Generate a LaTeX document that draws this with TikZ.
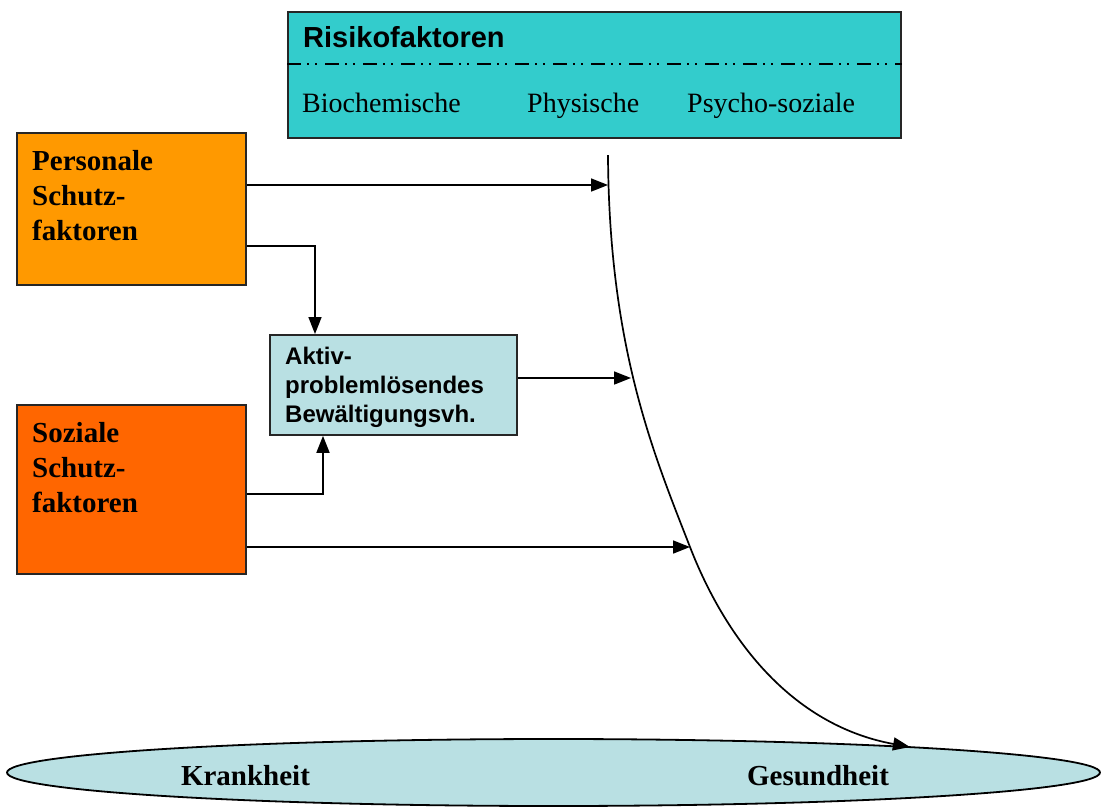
\documentclass[tikz,border=0pt]{standalone}
\usepackage{fontspec}
\setmainfont{Liberation Serif}
\setsansfont{Liberation Sans}
\usetikzlibrary{arrows.meta,shapes.geometric}
\definecolor{riskcyan}{RGB}{51,204,204}
\definecolor{persorange}{RGB}{255,153,0}
\definecolor{sozorange}{RGB}{255,102,0}
\definecolor{paleblue}{RGB}{185,224,227}
\begin{document}
\begin{tikzpicture}[x=1pt,y=-1pt,
        box/.style={draw=black!85,line width=1.8pt,inner sep=0pt,anchor=north west},
        arr/.style={-{Triangle[length=17pt,width=13pt]},line width=1.7pt},
        lbl/.style={inner sep=0pt,anchor=north west,align=left,font=\fontsize{29}{35}\selectfont\bfseries}]
                \useasboundingbox (0,0) rectangle (1101,807);
                % boxes
                \node[box,fill=riskcyan,minimum width=613pt,minimum height=126pt] (risk) at (287,11) {};
                \draw[line width=2pt,dash pattern=on 14pt off 6pt on 2pt off 6pt on 2pt off 8pt] (risk.west |- 0,64) -- (risk.east |- 0,64);
                \node[inner sep=0pt,anchor=base west,font=\sffamily\fontsize{29}{35}\selectfont\bfseries] (risktitle) at (303,47) {Risikofaktoren};
                \node[inner sep=0pt,anchor=base west,font=\fontsize{28}{34}\selectfont] (bio) at (302,112) {Biochemische};
                \node[inner sep=0pt,anchor=base west,font=\fontsize{28}{34}\selectfont] (phys) at (527,112) {Physische};
                \node[inner sep=0pt,anchor=base west,font=\fontsize{28}{34}\selectfont] (psych) at (687,112) {Psycho-soziale};
                \node[box,fill=persorange,minimum width=229pt,minimum height=152pt] (pers) at (16,132) {};
                \node[lbl] (perstext) at (32,150) {Personale\\Schutz-\\faktoren};
                \node[box,fill=sozorange,minimum width=229pt,minimum height=169pt] (soz) at (16,404) {};
                \node[lbl] (soztext) at (32,422) {Soziale\\Schutz-\\faktoren};
                \node[box,fill=paleblue,minimum width=247pt,minimum height=100pt] (aktiv) at (269,334) {};
                \node[lbl,font=\sffamily\fontsize{24}{29}\selectfont\bfseries] (aktivtext) at (285,347) {Aktiv-\\problemlösendes\\Bewältigungsvh.};
                \node[draw=black,ellipse,fill=paleblue,line width=1.8pt,inner sep=0pt,minimum width=1093pt,minimum height=67pt] (axis) at (553.5,772.5) {};
                \node[inner sep=0pt,anchor=base,font=\fontsize{29}{35}\selectfont\bfseries] (krank) at (245.5,785) {Krankheit};
                \node[inner sep=0pt,anchor=base,font=\fontsize{29}{35}\selectfont\bfseries] (gesund) at (818,785) {Gesundheit};
                % curve
                \coordinate (top) at (608,155);
                \coordinate (c1) at (608,185);
                \coordinate (c2) at (631,378);
                \coordinate (c3) at (690,547);
                \coordinate (tip) at (910,747);
                \draw[arr] (top) .. controls (609,350) and (655,457) .. (c3)
                        .. controls (725,637) and (790,725) .. (tip);
                % arrows
                \draw[arr] (pers.east |- c1) -- (c1);
                \draw[arr] ([yshift=-37pt]pers.east) -| ([xshift=46pt]aktiv.north west);
                \draw[arr] ([yshift=-4.5pt]soz.east) -| ([xshift=54pt]aktiv.south west);
                \draw[arr] (aktiv.east |- c2) -- (c2);
                \draw[arr] (soz.east |- c3) -- (c3);
\end{tikzpicture}
\end{document}
